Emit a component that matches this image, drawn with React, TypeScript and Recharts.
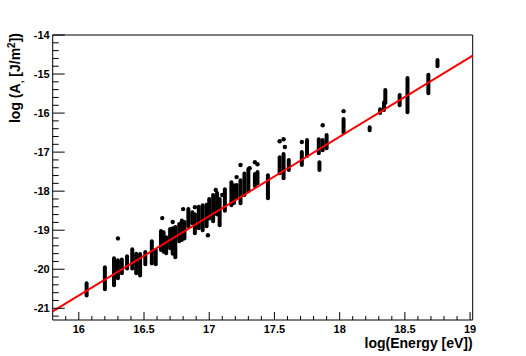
import React from 'react';
import { ComposedChart, XAxis, YAxis, Scatter, ReferenceLine, ReferenceArea, Label } from 'recharts';

// vertical streaks of events: energy (log eV), top and bottom of streak (log A)
const streakX = [16.06, 16.2, 16.27, 16.3, 16.33, 16.37, 16.41, 16.44, 16.47, 16.51, 16.56, 16.59, 16.63, 16.65, 16.67, 16.7, 16.72, 16.74, 16.77, 16.79, 16.81, 16.84, 16.87, 16.89, 16.92, 16.95, 16.98, 17.0, 17.03, 17.06, 17.08, 17.12, 17.17, 17.19, 17.21, 17.24, 17.27, 17.3, 17.35, 17.37, 17.45, 17.54, 17.57, 17.61, 17.71, 17.75, 17.84, 17.845, 17.87, 17.9, 18.03, 18.23, 18.31, 18.34, 18.35, 18.46, 18.52, 18.68, 18.75];
const streakHi = [-20.36, -19.95, -19.72, -19.77, -19.75, -19.67, -19.49, -19.6, -19.61, -19.56, -19.28, -19.51, -19.02, -19.05, -19.18, -18.97, -18.95, -18.92, -18.84, -18.75, -18.79, -18.46, -18.54, -18.59, -18.4, -18.36, -18.35, -18.2, -18.1, -18.05, -18.2, -17.95, -17.77, -17.85, -17.84, -17.72, -17.55, -17.43, -17.56, -17.51, -17.59, -17.13, -17.05, -17.2, -17.0, -16.69, -16.67, -17.26, -16.69, -16.56, -16.15, -16.36, -15.9, -15.72, -15.41, -15.54, -15.1, -15.02, -14.64];
const streakLo = [-20.67, -20.51, -20.41, -20.23, -20.1, -19.98, -19.98, -20.1, -20.16, -19.87, -19.85, -19.87, -19.51, -19.55, -19.59, -19.46, -19.6, -19.69, -19.28, -19.25, -19.21, -18.9, -18.82, -19.08, -18.95, -19.0, -18.9, -18.7, -18.77, -18.6, -18.87, -18.5, -18.36, -18.3, -18.18, -18.31, -18.1, -18.0, -17.87, -17.8, -18.18, -17.54, -17.67, -17.46, -17.33, -17.1, -17.03, -17.46, -16.95, -16.9, -16.51, -16.44, -16.0, -15.92, -15.74, -15.8, -15.98, -15.49, -14.8];

// isolated events
const outlierX = [16.3, 16.64, 16.72, 16.8, 16.89, 16.99, 17.05, 17.1, 17.21, 17.24, 17.31, 17.35, 17.37, 17.54, 17.57, 17.58, 17.71, 17.87, 18.03];
const outlierY = [-19.21, -18.69, -18.79, -18.46, -18.41, -19.13, -17.97, -18.1, -17.64, -17.33, -17.41, -17.26, -17.31, -16.72, -16.67, -16.87, -16.74, -16.31, -15.95];

// fit line end points
const fitX = [15.8, 19.02];
const fitY = [-21.08, -14.53];

const xMajorTicks = [16, 16.5, 17, 17.5, 18, 18.5, 19];
const xMinorTicks = [15.9, 16.1, 16.2, 16.3, 16.4, 16.6, 16.7, 16.8, 16.9, 17.1, 17.2, 17.3, 17.4, 17.6, 17.7, 17.8, 17.9, 18.1, 18.2, 18.3, 18.4, 18.6, 18.7, 18.8, 18.9];
const yMajorTicks = [-21, -20, -19, -18, -17, -16, -15, -14];
const yMinorTicks = [-21.2, -20.8, -20.6, -20.4, -20.2, -19.8, -19.6, -19.4, -19.2, -18.8, -18.6, -18.4, -18.2, -17.8, -17.6, -17.4, -17.2, -16.8, -16.6, -16.4, -16.2, -15.8, -15.6, -15.4, -15.2, -14.8, -14.6, -14.4, -14.2];

const X_DOMAIN: [number, number] = [15.8, 19.02];
const Y_DOMAIN: [number, number] = [-21.3, -14];

const FONT = '"Liberation Sans", Arial, Helvetica, sans-serif';

const isIn = (arr: number[], v: number) => arr.some((a) => Math.abs(a - v) < 1e-6);

const XTick = (props: any) => {
  const { x, y, payload } = props;
  const major = isIn(xMajorTicks, payload.value);
  return (
    <g>
      <line x1={x} x2={x} y1={y} y2={y - (major ? 8 : 4)} stroke="#000" strokeWidth={1} />
      {major && (
        <text x={x} y={y + 12.5} textAnchor="middle" fontFamily={FONT} fontWeight="bold" fontSize={11} fill="#000">
          {String(payload.value)}
        </text>
      )}
    </g>
  );
};

const YTick = (props: any) => {
  const { x, y, payload } = props;
  const major = isIn(yMajorTicks, payload.value);
  return (
    <g>
      <line x1={x} x2={x + (major ? 12 : 6)} y1={y} y2={y} stroke="#000" strokeWidth={1} />
      {major && (
        <text x={x - 3} y={y + 4} textAnchor="end" fontFamily={FONT} fontWeight="bold" fontSize={11} fill="#000">
          {String(payload.value)}
        </text>
      )}
    </g>
  );
};

const outliers = outlierX.map((x, i) => ({ x, y: outlierY[i] }));
const xTicks = [...xMajorTicks, ...xMinorTicks].sort((a, b) => a - b);
const yTicks = [...yMajorTicks, ...yMinorTicks].sort((a, b) => a - b);

export default function App() {
  return (
    <div style={{ position: 'absolute', left: 0, top: 0, background: '#fff' }}>
      <ComposedChart width={526} height={356} margin={{ top: 35, right: 53.3, bottom: 0, left: 0 }}>
        <XAxis
          type="number"
          dataKey="x"
          domain={X_DOMAIN}
          allowDataOverflow
          ticks={xTicks}
          interval={0}
          tickSize={0}
          tickMargin={0}
          tick={<XTick />}
          axisLine={false}
          tickLine={false}
          height={36}
        >
          <Label
            content={(p: any) => {
              const vb = p.viewBox;
              return (
                <text x={vb.x + vb.width} y={vb.y + 28} textAnchor="end" fontFamily={FONT} fontWeight="bold" fontSize={14} fill="#000">
                  log(Energy [eV])
                </text>
              );
            }}
          />
        </XAxis>
        <YAxis
          type="number"
          dataKey="y"
          domain={Y_DOMAIN}
          allowDataOverflow
          ticks={yTicks}
          interval={0}
          tickSize={0}
          tickMargin={0}
          tick={<YTick />}
          axisLine={false}
          tickLine={false}
          width={52.7}
        >
          <Label
            content={(p: any) => {
              const vb = p.viewBox;
              const tx = vb.x + 20;
              const ty = vb.y - 2;
              return (
                <text x={tx} y={ty} transform={`rotate(-90, ${tx}, ${ty})`} textAnchor="end" fontFamily={FONT} fontWeight="bold" fontSize={14} fill="#000">
                  log (A<tspan fontSize={10} dy={3}>,</tspan>
                  <tspan dy={-3}> [J/m</tspan>
                  <tspan fontSize={10} dy={-5}>2</tspan>
                  <tspan dy={5}>])</tspan>
                </text>
              );
            }}
          />
        </YAxis>
        {streakX.map((x, i) => (
          <ReferenceLine
            key={'s' + i}
            segment={[
              { x, y: streakLo[i] },
              { x, y: streakHi[i] },
            ]}
            stroke="#000"
            strokeWidth={4}
            strokeLinecap="round"
          />
        ))}
        <Scatter
          data={outliers}
          dataKey="y"
          isAnimationActive={false}
          shape={(p: any) => <circle cx={p.cx} cy={p.cy} r={2.2} fill="#000" />}
        />
        <ReferenceLine
          segment={[
            { x: fitX[0], y: fitY[0] },
            { x: fitX[1], y: fitY[1] },
          ]}
          stroke="#ff0000"
          strokeWidth={2}
        />
        <ReferenceArea x1={X_DOMAIN[0]} x2={X_DOMAIN[1]} y1={Y_DOMAIN[0]} y2={Y_DOMAIN[1]} fill="none" stroke="#000" strokeWidth={1} fillOpacity={0} />
      </ComposedChart>
    </div>
  );
}
